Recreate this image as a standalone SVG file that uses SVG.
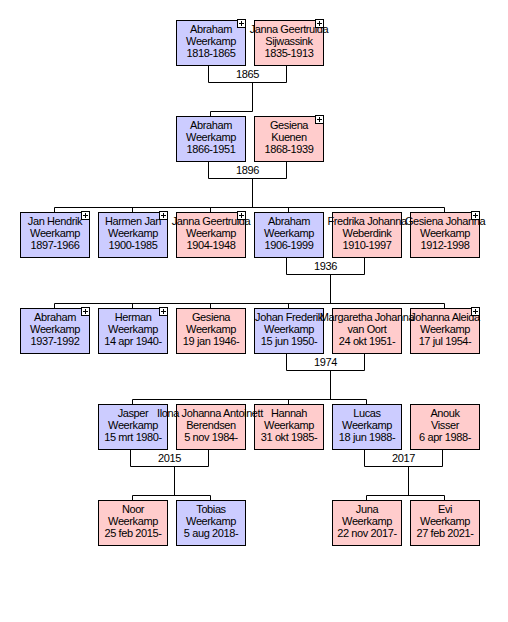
<svg xmlns="http://www.w3.org/2000/svg" xmlns:xlink="http://www.w3.org/1999/xlink" width="508" height="622" viewBox="0 0 508 622">
<style>
text{font-family:"Liberation Sans",Arial,sans-serif;font-size:11px;letter-spacing:-0.4px;text-anchor:middle;fill:#000}
.b{stroke:#000;stroke-width:1}
.m .b{fill:#ccccff}
.f .b{fill:#ffcccc}
#conn path{fill:none;stroke:#000;stroke-width:1}
.pl rect{fill:#fff;stroke:#000;stroke-width:1}
.pl path{fill:none;stroke:#000;stroke-width:1}
</style>
<defs>
<g id="plus" class="pl"><rect x="61.5" y="-0.5" width="8" height="8"/><path d="M63,3.5H68M65.5,1V6"/></g>
</defs>
<rect width="508" height="622" fill="#fff"/>
<g id="conn">
<path d="M208.5,65V82.5H286.5V65M252.5,82.5V111.5H210.5V116"/>
<text x="247.5" y="78">1865</text>
<path d="M208.5,161V178.5H286.5V161M252.5,178.5V207.5M54.5,212V207.5H444.5V212M132.5,207.5V212M210.5,207.5V212M288.5,207.5V212"/>
<text x="247.5" y="174">1896</text>
<path d="M286.5,257V274.5H364.5V257M330.5,274.5V303.5M54.5,308V303.5H444.5V308M132.5,303.5V308M210.5,303.5V308M288.5,303.5V308"/>
<text x="325.5" y="270">1936</text>
<path d="M286.5,353V370.5H364.5V353M330.5,370.5V399.5M132.5,404V399.5H366.5V404M288.5,399.5V404"/>
<text x="325.5" y="366">1974</text>
<path d="M130.5,449V466.5H208.5V449M174.5,466.5V495.5M132.5,500V495.5H210.5V500"/>
<text x="169.5" y="462">2015</text>
<path d="M364.5,449V466.5H442.5V449M408.5,466.5V495.5M366.5,500V495.5H444.5V500"/>
<text x="403.5" y="462">2017</text>
</g>
<g id="n-abraham-1818" class="m" transform="translate(176,20)"><rect class="b" x="0.5" y="0.5" width="69" height="45"/><text x="35" y="13">Abraham</text><text x="35" y="25">Weerkamp</text><text x="35" y="37">1818-1865</text><use xlink:href="#plus"/></g>
<g id="n-janna-sijwassink" class="f" transform="translate(254,20)"><rect class="b" x="0.5" y="0.5" width="69" height="45"/><text x="35" y="13">Janna Geertruida</text><text x="35" y="25">Sijwassink</text><text x="35" y="37">1835-1913</text><use xlink:href="#plus"/></g>
<g id="n-abraham-1866" class="m" transform="translate(176,116)"><rect class="b" x="0.5" y="0.5" width="69" height="45"/><text x="35" y="13">Abraham</text><text x="35" y="25">Weerkamp</text><text x="35" y="37">1866-1951</text></g>
<g id="n-gesiena-kuenen" class="f" transform="translate(254,116)"><rect class="b" x="0.5" y="0.5" width="69" height="45"/><text x="35" y="13">Gesiena</text><text x="35" y="25">Kuenen</text><text x="35" y="37">1868-1939</text><use xlink:href="#plus"/></g>
<g id="n-jan-hendrik" class="m" transform="translate(20,212)"><rect class="b" x="0.5" y="0.5" width="69" height="45"/><text x="35" y="13">Jan Hendrik</text><text x="35" y="25">Weerkamp</text><text x="35" y="37">1897-1966</text><use xlink:href="#plus"/></g>
<g id="n-harmen-jan" class="m" transform="translate(98,212)"><rect class="b" x="0.5" y="0.5" width="69" height="45"/><text x="35" y="13">Harmen Jan</text><text x="35" y="25">Weerkamp</text><text x="35" y="37">1900-1985</text><use xlink:href="#plus"/></g>
<g id="n-janna-geertruida" class="f" transform="translate(176,212)"><rect class="b" x="0.5" y="0.5" width="69" height="45"/><text x="35" y="13">Janna Geertruida</text><text x="35" y="25">Weerkamp</text><text x="35" y="37">1904-1948</text><use xlink:href="#plus"/></g>
<g id="n-abraham-1906" class="m" transform="translate(254,212)"><rect class="b" x="0.5" y="0.5" width="69" height="45"/><text x="35" y="13">Abraham</text><text x="35" y="25">Weerkamp</text><text x="35" y="37">1906-1999</text></g>
<g id="n-fredrika" class="f" transform="translate(332,212)"><rect class="b" x="0.5" y="0.5" width="69" height="45"/><text x="35" y="13">Fredrika Johanna</text><text x="35" y="25">Weberdink</text><text x="35" y="37">1910-1997</text></g>
<g id="n-gesiena-johanna" class="f" transform="translate(410,212)"><rect class="b" x="0.5" y="0.5" width="69" height="45"/><text x="35" y="13">Gesiena Johanna</text><text x="35" y="25">Weerkamp</text><text x="35" y="37">1912-1998</text><use xlink:href="#plus"/></g>
<g id="n-abraham-1937" class="m" transform="translate(20,308)"><rect class="b" x="0.5" y="0.5" width="69" height="45"/><text x="35" y="13">Abraham</text><text x="35" y="25">Weerkamp</text><text x="35" y="37">1937-1992</text><use xlink:href="#plus"/></g>
<g id="n-herman" class="m" transform="translate(98,308)"><rect class="b" x="0.5" y="0.5" width="69" height="45"/><text x="35" y="13">Herman</text><text x="35" y="25">Weerkamp</text><text x="35" y="37">14 apr 1940-</text><use xlink:href="#plus"/></g>
<g id="n-gesiena-1946" class="f" transform="translate(176,308)"><rect class="b" x="0.5" y="0.5" width="69" height="45"/><text x="35" y="13">Gesiena</text><text x="35" y="25">Weerkamp</text><text x="35" y="37">19 jan 1946-</text></g>
<g id="n-johan-frederik" class="m" transform="translate(254,308)"><rect class="b" x="0.5" y="0.5" width="69" height="45"/><text x="35" y="13">Johan Frederik</text><text x="35" y="25">Weerkamp</text><text x="35" y="37">15 jun 1950-</text></g>
<g id="n-johanna-aleida" class="f" transform="translate(410,308)"><rect class="b" x="0.5" y="0.5" width="69" height="45"/><text x="35" y="13">Johanna Aleida</text><text x="35" y="25">Weerkamp</text><text x="35" y="37">17 jul 1954-</text><use xlink:href="#plus"/></g>
<g id="n-margaretha" class="f" transform="translate(332,308)"><rect class="b" x="0.5" y="0.5" width="69" height="45"/><text x="35" y="13">Margaretha Johanna</text><text x="35" y="25">van Oort</text><text x="35" y="37">24 okt 1951-</text></g>
<g id="n-jasper" class="m" transform="translate(98,404)"><rect class="b" x="0.5" y="0.5" width="69" height="45"/><text x="35" y="13">Jasper</text><text x="35" y="25">Weerkamp</text><text x="35" y="37">15 mrt 1980-</text></g>
<g id="n-hannah" class="f" transform="translate(254,404)"><rect class="b" x="0.5" y="0.5" width="69" height="45"/><text x="35" y="13">Hannah</text><text x="35" y="25">Weerkamp</text><text x="35" y="37">31 okt 1985-</text></g>
<g id="n-lucas" class="m" transform="translate(332,404)"><rect class="b" x="0.5" y="0.5" width="69" height="45"/><text x="35" y="13">Lucas</text><text x="35" y="25">Weerkamp</text><text x="35" y="37">18 jun 1988-</text></g>
<g id="n-anouk" class="f" transform="translate(410,404)"><rect class="b" x="0.5" y="0.5" width="69" height="45"/><text x="35" y="13">Anouk</text><text x="35" y="25">Visser</text><text x="35" y="37">6 apr 1988-</text></g>
<g id="n-ilona" class="f" transform="translate(176,404)"><rect class="b" x="0.5" y="0.5" width="69" height="45"/><text x="34" y="13">Ilona Johanna Antoinett</text><text x="35" y="25">Berendsen</text><text x="35" y="37">5 nov 1984-</text></g>
<g id="n-noor" class="f" transform="translate(98,500)"><rect class="b" x="0.5" y="0.5" width="69" height="45"/><text x="35" y="13">Noor</text><text x="35" y="25">Weerkamp</text><text x="35" y="37">25 feb 2015-</text></g>
<g id="n-tobias" class="m" transform="translate(176,500)"><rect class="b" x="0.5" y="0.5" width="69" height="45"/><text x="35" y="13">Tobias</text><text x="35" y="25">Weerkamp</text><text x="35" y="37">5 aug 2018-</text></g>
<g id="n-juna" class="f" transform="translate(332,500)"><rect class="b" x="0.5" y="0.5" width="69" height="45"/><text x="35" y="13">Juna</text><text x="35" y="25">Weerkamp</text><text x="35" y="37">22 nov 2017-</text></g>
<g id="n-evi" class="f" transform="translate(410,500)"><rect class="b" x="0.5" y="0.5" width="69" height="45"/><text x="35" y="13">Evi</text><text x="35" y="25">Weerkamp</text><text x="35" y="37">27 feb 2021-</text></g>
</svg>
